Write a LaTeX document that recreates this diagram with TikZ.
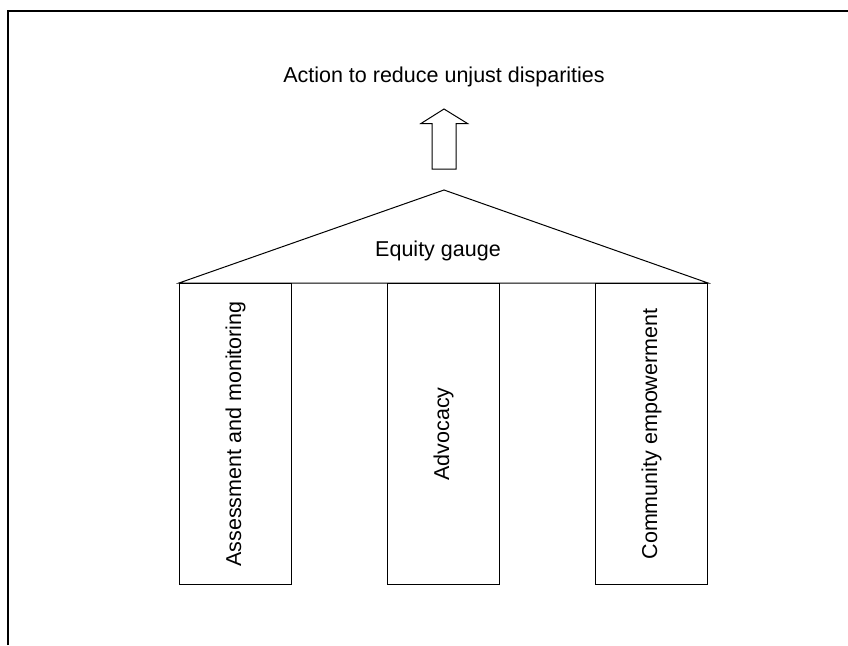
\documentclass[tikz,border=0pt]{standalone}
\usepackage{fontspec}
\setmainfont{Liberation Sans}
\begin{document}
\begin{tikzpicture}[x=1pt,y=-1pt,
  thin line/.style={draw=black,line width=1pt},
  pillar/.style={thin line,rectangle,minimum width=112pt,minimum height=301pt,inner sep=0pt,anchor=north west},
  lbl/.style={font=\fontsize{21.5}{25}\selectfont,inner sep=0pt},
  vlbl/.style={lbl,rotate=90}]
\useasboundingbox[fill=white] (0,0) rectangle (848,645);
% frame
\draw[line width=2pt] (8,645) -- (8,11) -- (848,11);
% pillars
\node[pillar] (p1) at (179,283) {};
\node[pillar] (p2) at (387,283) {};
\node[pillar] (p3) at (595,283) {};
\node[vlbl] at (p1.center) {Assessment and monitoring};
\node[vlbl] at (p2.center) {Advocacy};
\node[vlbl] at (p3.center) {Community empowerment};
% roof
\coordinate (apex) at (444,190);
\draw[thin line,line join=miter] (p1.north west) -- (apex) -- (p3.north east) -- cycle;
\node[lbl,anchor=base] (eq) at (438,256) {Equity gauge};
% block arrow
\draw[thin line,line join=miter] (432,169) -- (432,123.5) -- (421,123.5) -- (444,109) -- (467.5,123.5) -- (456,123.5) -- (456,169) -- cycle;
\node[lbl,anchor=base] (act) at (444,82) {Action to reduce unjust disparities};
\end{tikzpicture}
\end{document}
